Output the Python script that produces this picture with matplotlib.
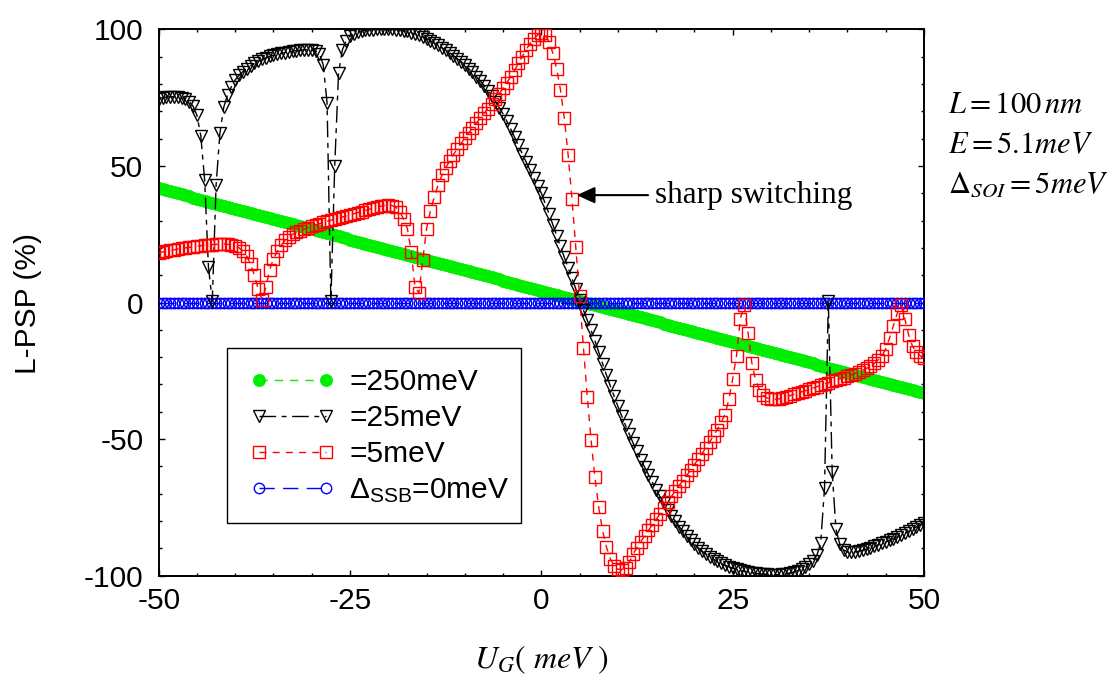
import numpy as np
import matplotlib
matplotlib.use('Agg')
import matplotlib.pyplot as plt
from matplotlib.ticker import MultipleLocator
from matplotlib.patches import Rectangle

# ------- DATA (0.5 meV step) -------
u_g = np.linspace(-50, 50, 201)

# Delta_SSB = 250 meV (green, straight line)
psp_250 = [
    41.8, 41.43, 41.05, 40.68, 40.3, 39.93, 39.55, 39.18, 38.8, 38.43,
    38.05, 37.68, 37.3, 36.93, 36.55, 36.18, 35.8, 35.43, 35.05, 34.68,
    34.3, 33.93, 33.55, 33.18, 32.8, 32.43, 32.05, 31.68, 31.3, 30.93,
    30.55, 30.18, 29.8, 29.43, 29.05, 28.68, 28.3, 27.93, 27.55, 27.18,
    26.8, 26.43, 26.05, 25.68, 25.3, 24.93, 24.55, 24.18, 23.8, 23.43,
    23.05, 22.68, 22.3, 21.93, 21.55, 21.18, 20.8, 20.43, 20.05, 19.68,
    19.3, 18.93, 18.55, 18.18, 17.8, 17.43, 17.05, 16.68, 16.3, 15.93,
    15.55, 15.18, 14.8, 14.43, 14.05, 13.68, 13.3, 12.93, 12.55, 12.18,
    11.8, 11.43, 11.05, 10.68, 10.3, 9.93, 9.55, 9.18, 8.8, 8.43,
    8.05, 7.68, 7.3, 6.93, 6.55, 6.18, 5.8, 5.43, 5.05, 4.68,
    4.3, 3.93, 3.55, 3.18, 2.8, 2.43, 2.05, 1.68, 1.3, 0.93,
    0.55, 0.18, -0.2, -0.57, -0.95, -1.32, -1.7, -2.07, -2.45, -2.82,
    -3.2, -3.57, -3.95, -4.32, -4.7, -5.07, -5.45, -5.82, -6.2, -6.57,
    -6.95, -7.32, -7.7, -8.07, -8.45, -8.82, -9.2, -9.57, -9.95, -10.32,
    -10.7, -11.07, -11.45, -11.82, -12.2, -12.57, -12.95, -13.32, -13.7, -14.07,
    -14.45, -14.82, -15.2, -15.57, -15.95, -16.32, -16.7, -17.07, -17.45, -17.82,
    -18.2, -18.57, -18.95, -19.32, -19.7, -20.07, -20.45, -20.82, -21.2, -21.57,
    -21.95, -22.32, -22.7, -23.07, -23.45, -23.82, -24.2, -24.57, -24.95, -25.32,
    -25.7, -26.07, -26.45, -26.82, -27.2, -27.57, -27.95, -28.32, -28.7, -29.07,
    -29.45, -29.82, -30.2, -30.57, -30.95, -31.32, -31.7, -32.07, -32.45, -32.82,
    -33.2,
]

# Delta_SSB = 25 meV (black triangles)
psp_25 = [
    74.5, 75.0, 75.2, 75.3, 75.3, 75.2, 74.9, 74.4, 73.5, 71.8,
    68.5, 61.0, 45.0, 13.0, 0.5, 43.0, 62.0, 71.5, 76.0, 79.0,
    81.5, 83.2, 84.5, 85.6, 86.6, 87.5, 88.3, 89.0, 89.6, 90.1,
    90.5, 90.9, 91.2, 91.5, 91.8, 92.0, 92.2, 92.4, 92.5, 92.6,
    92.5, 92.1, 91.0, 87.0, 73.0, 0.5, 50.0, 84.0, 92.5, 95.8,
    97.5, 98.4, 99.0, 99.4, 99.6, 99.8, 99.9, 100.0, 100.0, 100.0,
    100.0, 100.0, 99.9, 99.7, 99.5, 99.2, 98.8, 98.3, 97.8, 97.2,
    96.6, 95.8, 95.0, 94.1, 93.2, 92.4, 91.5, 90.4, 89.3, 88.2,
    87.0, 85.6, 84.2, 82.7, 81.2, 79.4, 77.5, 75.5, 73.5, 71.3,
    69.0, 66.3, 63.5, 60.5, 57.5, 54.5, 51.5, 48.5, 45.5, 42.7,
    40.0, 36.3, 32.5, 28.5, 24.5, 20.5, 16.5, 12.7, 9.0, 5.0,
    1.0, -2.8, -6.5, -10.2, -14.0, -18.2, -22.5, -26.5, -30.5, -34.3,
    -38.0, -41.5, -45.0, -48.3, -51.5, -54.5, -57.5, -60.3, -63.0, -65.8,
    -68.5, -71.0, -73.5, -75.8, -78.0, -80.0, -82.0, -83.8, -85.5, -87.0,
    -88.5, -89.8, -91.0, -92.0, -93.0, -93.9, -94.8, -95.5, -96.2, -96.7,
    -97.2, -97.6, -98.0, -98.3, -98.6, -98.9, -99.1, -99.3, -99.4, -99.5,
    -99.6, -99.6, -99.6, -99.5, -99.3, -99.0, -98.6, -98.1, -97.5, -96.8,
    -95.8, -94.5, -92.5, -88.0, -68.0, 0.5, -62.0, -83.0, -88.5, -90.5,
    -91.3, -91.5, -91.3, -91.0, -90.6, -90.2, -89.7, -89.2, -88.7, -88.2,
    -87.6, -87.0, -86.4, -85.8, -85.1, -84.4, -83.7, -83.0, -82.2, -81.4,
    -80.6,
]

# Delta_SSB = 5 meV (red squares)
psp_5 = [
    18.2, 18.5, 18.8, 19.1, 19.3, 19.6, 19.8, 20.0, 20.2, 20.4,
    20.6, 20.8, 20.9, 21.1, 21.2, 21.3, 21.4, 21.4, 21.3, 21.1,
    20.8, 20.0, 18.8, 17.0, 14.0, 10.0, 5.0, 1.0, 5.5, 12.0,
    16.0, 18.8, 21.0, 22.7, 24.1, 25.0, 25.7, 26.3, 26.9, 27.4,
    27.9, 28.4, 28.8, 29.3, 29.7, 30.1, 30.5, 30.9, 31.3, 31.7,
    32.1, 32.5, 32.9, 33.3, 33.7, 34.1, 34.5, 34.9, 35.2, 35.5,
    35.7, 35.5, 34.8, 33.3, 30.5, 27.0, 18.5, 5.5, 3.5, 15.5,
    27.0, 33.5, 38.5, 43.0, 46.5, 49.3, 51.8, 54.1, 56.2, 58.2,
    60.1, 62.0, 63.8, 65.6, 67.4, 69.2, 71.0, 72.8, 74.6, 76.5,
    78.5, 80.5, 82.7, 85.0, 87.5, 90.0, 92.5, 94.7, 96.5, 97.9,
    98.8, 98.0, 95.5, 91.3, 85.5, 77.8, 67.5, 54.0, 38.0, 20.3,
    2.3, -16.5, -34.5, -50.5, -64.0, -75.0, -83.5, -89.5, -93.8, -96.3,
    -97.6, -97.8, -97.0, -95.0, -92.0, -89.7, -87.5, -85.4, -83.4, -81.4,
    -79.4, -77.4, -75.3, -73.1, -71.0, -69.0, -67.0, -65.2, -63.3, -61.3,
    -59.3, -57.3, -55.3, -53.2, -51.0, -48.8, -46.5, -43.8, -41.0, -35.5,
    -28.0, -19.5, -6.0, -1.0, -11.0, -22.0, -28.5, -32.0, -34.0, -35.0,
    -35.4, -35.5, -35.3, -35.0, -34.5, -34.1, -33.6, -33.2, -32.7, -32.3,
    -31.8, -31.3, -30.8, -30.3, -29.8, -29.4, -28.9, -28.4, -27.9, -27.5,
    -27.0, -26.5, -26.0, -25.4, -24.8, -24.1, -23.3, -22.3, -21.0, -19.6,
    -17.0, -13.0, -8.5, -4.0, -0.8, -6.0, -12.0, -16.0, -18.2, -19.5,
    -20.3,
]

# Delta_SSB = 0 meV (blue, zero everywhere)
psp_0 = [0.0] * 201

labels = ['=250meV', '=25meV', '=5meV', r'$\mathregular{\Delta_{SSB}}$=0meV']
x_ticks = [-50, -25, 0, 25, 50]
y_ticks = [-100, -50, 0, 50, 100]

# ------- STYLE -------
plt.rcParams['font.family'] = ['Liberation Sans', 'DejaVu Sans']
plt.rcParams['axes.unicode_minus'] = False
FS = 21.5
W, H = 1115, 682

fig = plt.figure(figsize=(W / 100, H / 100), dpi=100)
ax = fig.add_axes([158.7 / W, 1 - 575.7 / H, (924 - 158.7) / W, (575.7 - 29.3) / H])

l_green, = ax.plot(u_g, psp_250, color='#00ee00', ls=(0, (6, 5)), lw=1.0,
                   marker='o', ms=8.8, mfc='#00ee00', mec='#00ee00', mew=0.5, zorder=2)
l_blue, = ax.plot(u_g, psp_0, color='#0000ff', ls=(0, (11, 6)), lw=1.0,
                  marker='o', ms=7.5, mfc='none', mec='#0000ff', mew=1.0, zorder=3)
l_black, = ax.plot(u_g, psp_25, color='k', ls=(0, (12, 4, 3.5, 4)), lw=1.0,
                   marker='v', ms=8.5, mfc='none', mec='k', mew=1.0, zorder=4)
l_red, = ax.plot(u_g, psp_5, color='#ff0000', ls=(0, (5, 4.5)), lw=1.0,
                 marker='s', ms=8, mfc='none', mec='#ff0000', mew=1.0, zorder=5)

ax.set_xlim(-50, 50)
ax.set_ylim(-100, 100)
ax.set_xticks(x_ticks)
ax.set_yticks(y_ticks)
ax.xaxis.set_minor_locator(MultipleLocator(5))
ax.yaxis.set_minor_locator(MultipleLocator(10))
ax.tick_params(which='both', direction='in', top=True, right=True, width=1.0)
ax.tick_params(which='major', length=4.5)
ax.tick_params(which='minor', length=2.5)
ax.tick_params(axis='x', pad=8, labelsize=FS)
ax.tick_params(axis='y', pad=11, labelsize=FS)
for sp in ax.spines.values():
    sp.set_linewidth(1.4)

# legend (frame drawn separately so the padding can match)
leg = ax.legend([l_green, l_black, l_red, l_blue], labels,
                loc='upper left', bbox_to_anchor=(250 / W, 1 - 368 / H),
                bbox_transform=fig.transFigure, frameon=False, borderpad=0,
                borderaxespad=0, handlelength=2.84, handletextpad=0.48,
                labelspacing=0.27, numpoints=2, fontsize=FS)
leg.set_zorder(8)
fig.canvas.draw()
leg_right = leg.get_window_extent().x1 + 12
ax.add_patch(Rectangle((227.3 / W, 1 - 523.3 / H), (leg_right - 227.3) / W, (523.3 - 348.3) / H,
                       transform=fig.transFigure, facecolor='white', edgecolor='k',
                       lw=1.0, zorder=7, clip_on=False))

# annotation
ax.annotate('', xy=(4.62, 39.3), xytext=(13.94, 39.3),
            arrowprops=dict(arrowstyle='-|>,head_length=0.55,head_width=0.25',
                            mutation_scale=20, lw=1.5, color='k',
                            shrinkA=0, shrinkB=0), zorder=9)
ax.text(14.85, 39.3, 'sharp switching', family='Liberation Serif', fontsize=22.5,
        ha='left', va='center', zorder=9)

# axis labels and parameters
fig.text(28 / W, 1 - 303 / H, 'L-PSP (%)', rotation=90, ha='center', va='center', fontsize=FS)
fig.text(541 / W, 1 - 668 / H, r'$U_G(\ meV\ )$', ha='center', va='baseline',
         fontsize=23, math_fontfamily='stix')
fig.text(948 / W, 1 - 113 / H, r'$L=100\,nm$', ha='left', va='baseline',
         fontsize=22, math_fontfamily='stix')
fig.text(948 / W, 1 - 153 / H, r'$E=5.1meV$', ha='left', va='baseline',
         fontsize=22, math_fontfamily='stix')
fig.text(948 / W, 1 - 193 / H, r'$\Delta_{SOI}=5meV$', ha='left', va='baseline',
         fontsize=22, math_fontfamily='stix')

fig.savefig('out.png', dpi=100)
